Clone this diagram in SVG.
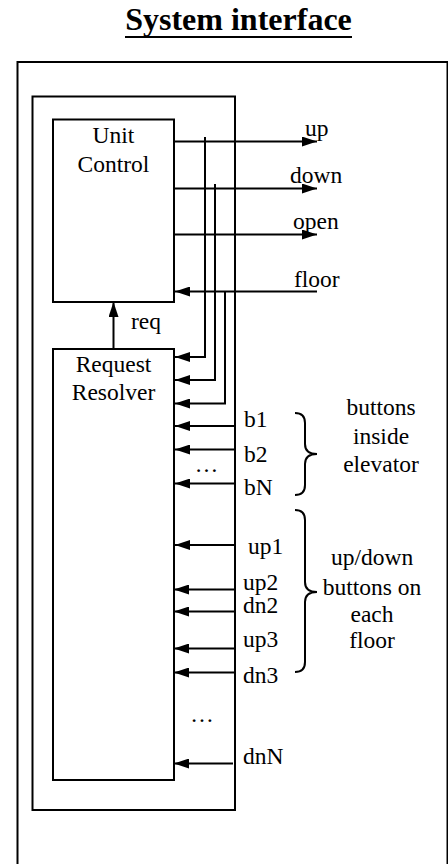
<svg xmlns="http://www.w3.org/2000/svg" width="448" height="864" viewBox="0 0 448 864">
<defs>
<style>
text{font-family:"Liberation Serif","Times New Roman",serif;font-size:23.5px;fill:#000}
.c{text-anchor:middle}
.box{fill:none;stroke:#000;stroke-width:2}
.w{fill:none;stroke:#000;stroke-width:2}
.a{fill:none;stroke:#000;stroke-width:2;marker-end:url(#ah)}
</style>
<marker id="ah" markerUnits="userSpaceOnUse" markerWidth="16" markerHeight="10" refX="15" refY="5" orient="auto">
<path d="M0,0 L15,5 L0,10 z" fill="#000"/>
</marker>
</defs>
<rect width="448" height="864" fill="#fff"/>
<g id="title">
<text x="238.5" y="30" class="c" style="font-size:32px;font-weight:bold">System interface</text>
<line x1="125" y1="37" x2="352" y2="37" stroke="#000" stroke-width="2"/>
</g>
<g id="system">
<rect x="17.5" y="62" width="430" height="840" class="box"/>
</g>
<g id="elevator">
<rect x="32.5" y="96.5" width="202.5" height="713.5" class="box"/>
</g>
<g id="unit-control">
<rect x="53" y="119.5" width="121" height="182.5" class="box"/>
<text x="113.5" y="143" class="c">Unit</text>
<text x="113.5" y="171.5" class="c">Control</text>
</g>
<g id="request-resolver">
<rect x="53" y="349" width="121" height="431" class="box"/>
<text x="113.5" y="371.5" class="c">Request</text>
<text x="113.5" y="400" class="c">Resolver</text>
</g>
<g id="connectors">
<path class="a" d="M113.5,349 V302"/>
<path class="a" d="M174,141.5 H317"/>
<path class="a" d="M174,188.5 H317"/>
<path class="a" d="M174,234.5 H317"/>
<path class="a" d="M317,291.5 H175"/>
<path class="a" d="M205,137 V357 H175"/>
<path class="a" d="M215,184 V380 H175"/>
<path class="a" d="M225,291.5 V403.5 H175"/>
<path class="a" d="M235,426 H175"/>
<path class="a" d="M235,449.5 H175"/>
<path class="a" d="M235,483.5 H175"/>
<path class="a" d="M235,545 H175"/>
<path class="a" d="M235,589.5 H174"/>
<path class="a" d="M235,611.5 H174"/>
<path class="a" d="M235,648.5 H174"/>
<path class="a" d="M235,672.5 H174"/>
<path class="a" d="M233,763.5 H174"/>
<path class="w" d="M295,413 Q305,413 305,423 V444 Q305,454 317,454 Q305,454 305,464 V485 Q305,495 295,495"/>
<path class="w" d="M295,510 Q305,510 305,520 V582 Q305,592 317,592 Q305,592 305,602 V662 Q305,672 295,672"/>
</g>
<g id="labels">
<text x="131" y="329">req</text>
<text x="305" y="136">up</text>
<text x="290" y="182.5">down</text>
<text x="293" y="229">open</text>
<text x="294" y="286.5">floor</text>
<text x="244" y="427">b1</text>
<text x="244" y="461.5">b2</text>
<text x="244" y="495">bN</text>
<text x="206.5" y="471.5" class="c">…</text>
<text x="248" y="554">up1</text>
<text x="243" y="590">up2</text>
<text x="243" y="613">dn2</text>
<text x="243" y="646.5">up3</text>
<text x="243" y="683">dn3</text>
<text x="202" y="721.5" class="c">…</text>
<text x="243" y="763.5">dnN</text>
<text x="381" y="415" class="c">buttons</text>
<text x="381" y="443.5" class="c">inside</text>
<text x="381" y="471.5" class="c">elevator</text>
<text x="372" y="565" class="c">up/down</text>
<text x="372" y="595" class="c">buttons on</text>
<text x="372" y="621.5" class="c">each</text>
<text x="372" y="648" class="c">floor</text>
</g>
</svg>
